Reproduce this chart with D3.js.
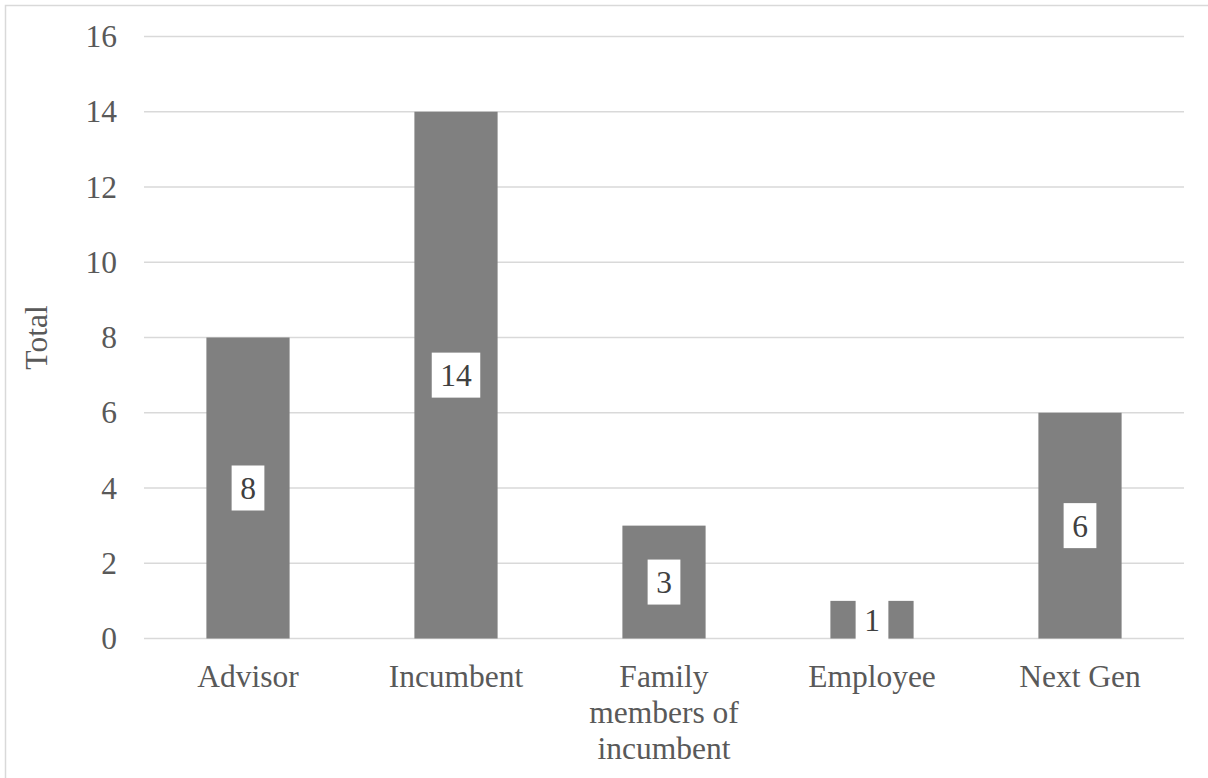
<!DOCTYPE html>
<html>
<head>
<meta charset="utf-8">
<script src="https://cdn.jsdelivr.net/npm/d3@7/dist/d3.min.js"></script>
<style>
  html, body { margin: 0; padding: 0; background: #fff; }
  svg { display: block; }
</style>
</head>
<body>
<svg id="chart" width="1208" height="778"></svg>
<script>
// Respondent groups and their counts
const categories = ["Advisor", "Incumbent", "Family members of incumbent", "Employee", "Next Gen"];
const categoryLines = [["Advisor"], ["Incumbent"], ["Family", "members of", "incumbent"], ["Employee"], ["Next Gen"]];
const totals = [8, 14, 3, 1, 6];
const yTicks = [0, 2, 4, 6, 8, 10, 12, 14, 16];
const yTitle = "Total";

const W = 1208, H = 778;
const margin = { left: 144, right: 24, top: 36.5, bottom: 139.5 };
const font = "'Liberation Serif', 'Times New Roman', serif";
const fs = 31.5;

const svg = d3.select("#chart");

// outer chart frame
svg.append("rect")
  .attr("x", 5.5).attr("y", 5.5)
  .attr("width", W + 20).attr("height", H + 20)
  .attr("fill", "none").attr("stroke", "#d9d9d9").attr("stroke-width", 1.5);

const x = d3.scaleBand()
  .domain(categories)
  .range([margin.left, W - margin.right])
  .paddingInner(0.6).paddingOuter(0.3);

const y = d3.scaleLinear()
  .domain([0, 16])
  .range([H - margin.bottom, margin.top]);

// horizontal gridlines
svg.append("g")
  .selectAll("line")
  .data(yTicks)
  .join("line")
  .attr("x1", margin.left).attr("x2", W - margin.right)
  .attr("y1", d => y(d)).attr("y2", d => y(d))
  .attr("stroke", "#d9d9d9").attr("stroke-width", 1.5);

// y axis labels
const yAxis = d3.axisLeft(y).tickValues(yTicks).tickSize(0).tickPadding(27);
const yg = svg.append("g").attr("transform", `translate(${margin.left},0)`).call(yAxis)
  .attr("font-family", font).attr("font-size", fs);
yg.select(".domain").remove();
yg.selectAll("text").attr("fill", "#595959");

// y axis title
svg.append("text")
  .attr("transform", `translate(${47},${(y(0) + y(16)) / 2}) rotate(-90)`)
  .attr("text-anchor", "middle")
  .attr("font-family", font).attr("font-size", fs).attr("fill", "#595959")
  .text(yTitle);

// bars
svg.append("g")
  .selectAll("rect")
  .data(categories)
  .join("rect")
  .attr("x", d => x(d))
  .attr("width", x.bandwidth())
  .attr("y", (d, i) => y(totals[i]))
  .attr("height", (d, i) => y(0) - y(totals[i]))
  .attr("fill", "#808080");

// category labels, wrapped across lines
const xl = svg.append("g");
categories.forEach((c, i) => {
  const t = xl.append("text")
    .attr("text-anchor", "middle")
    .attr("font-family", font).attr("font-size", fs).attr("fill", "#595959");
  categoryLines[i].forEach((line, j) => {
    t.append("tspan")
      .attr("x", x(c) + x.bandwidth() / 2)
      .attr("y", y(0) + 48.5 + j * 36)
      .text(line);
  });
});

// value labels in white boxes at the middle of each bar
const lab = svg.append("g");
categories.forEach((c, i) => {
  const cx = x(c) + x.bandwidth() / 2;
  const cy = (y(0) + y(totals[i])) / 2;
  const g = lab.append("g");
  const rect = g.append("rect").attr("fill", "#fff");
  const t = g.append("text")
    .attr("x", cx).attr("y", cy + 11)
    .attr("text-anchor", "middle")
    .attr("font-family", font).attr("font-size", fs).attr("fill", "#404040")
    .text(totals[i]);
  const tw = t.node().getComputedTextLength();
  const bw = tw + 17, bh = 45;
  rect.attr("x", cx - bw / 2).attr("y", cy - bh / 2).attr("width", bw).attr("height", bh);
});
</script>
</body>
</html>
